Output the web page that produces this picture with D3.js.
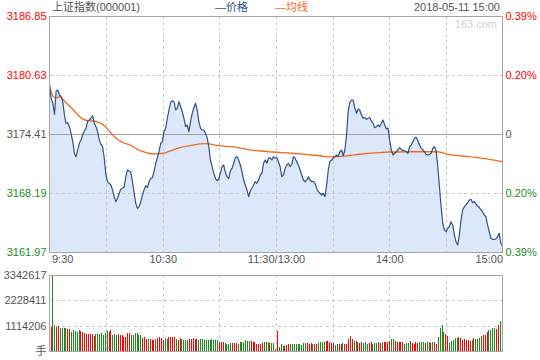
<!DOCTYPE html>
<html><head><meta charset="utf-8">
<script src="https://cdn.jsdelivr.net/npm/d3@7"></script>
<style>
body{margin:0;background:#fff}
svg{display:block}
text{font-family:"Liberation Sans","Noto Sans CJK SC",sans-serif;font-size:11px}
</style>
</head><body><svg id="c" width="540" height="360"></svg>
<script>
const titleText = "上证指数(000001)";
const legendLabels = ["—价格", "—均线"];
const dateText = "2018-05-11 15:00";
const watermark = "163.com";
const prevClose = 3174.41;
const priceTicks = [3161.97, 3168.19, 3174.41, 3180.63, 3186.85];
const pctLabels = ["0.39%", "0.20%", "0", "0.20%", "0.39%"];
const timeMinutes = [0, 60, 120, 180, 240];
const timeLabels = ["9:30", "10:30", "11:30/13:00", "14:00", "15:00"];
const gridMinutes = [30, 60, 90, 120, 150, 180, 210];
const volumeTicks = [0, 1114206, 2228411, 3342617];
const volumeTickLabels = ["手", "1114206", "2228411", "3342617"];

const prices = [
3179.58,3178.17,3177.68,3176.48,3178.94,3179.05,3178.52,3178.34,3177.82,3176.41,
3175.54,3175.60,3175.18,3174.48,3173.60,3172.38,3172.02,3172.72,3173.43,3173.78,
3174.31,3174.73,3175.01,3175.78,3175.89,3176.07,3176.34,3175.54,3175.18,3174.65,
3173.78,3173.32,3173.07,3171.85,3170.09,3169.38,3169.21,3169.03,3168.51,3167.80,
3167.27,3167.63,3168.16,3168.58,3168.69,3168.85,3169.91,3170.62,3170.51,3170.37,
3169.38,3168.16,3167.10,3166.58,3166.75,3167.27,3167.98,3168.51,3168.96,3168.75,
3169.38,3169.74,3169.80,3170.44,3171.32,3171.91,3172.54,3173.43,3173.60,3174.65,
3175.01,3176.07,3176.94,3177.75,3177.92,3177.82,3176.94,3177.12,3177.82,3177.29,
3176.76,3176.07,3175.18,3175.36,3174.65,3175.71,3176.59,3177.18,3177.65,3176.94,
3175.71,3175.01,3174.83,3174.83,3174.48,3174.02,3173.07,3171.67,3170.96,3170.27,
3169.74,3169.49,3169.67,3170.27,3170.96,3171.14,3170.37,3169.91,3169.74,3170.51,
3170.79,3171.32,3171.91,3172.02,3171.67,3171.14,3170.44,3169.56,3169.03,3168.51,
3167.80,3168.40,3168.69,3169.03,3169.38,3169.21,3169.56,3170.09,3170.27,3171.32,
3171.67,3171.32,3171.85,3171.91,3171.67,3172.02,3171.85,3171.91,3171.46,3170.96,
3169.91,3170.09,3170.79,3171.14,3171.32,3170.96,3171.22,3172.02,3171.85,3171.49,
3171.14,3170.62,3170.09,3169.56,3169.38,3169.56,3169.91,3169.56,3169.38,3169.38,
3169.21,3168.69,3168.33,3168.16,3167.98,3168.16,3167.80,3169.03,3170.62,3171.49,
3171.67,3171.85,3172.02,3172.20,3172.02,3172.54,3172.72,3172.12,3172.72,3174.31,
3176.76,3177.75,3177.99,3177.99,3177.12,3176.59,3177.05,3176.94,3176.41,3176.07,
3176.13,3175.96,3176.07,3176.13,3175.78,3175.54,3175.07,3175.18,3175.36,3175.18,
3175.54,3175.89,3175.36,3174.94,3175.04,3173.78,3172.72,3172.20,3172.38,3172.54,
3172.72,3172.97,3172.80,3172.65,3172.65,3172.54,3172.38,3173.07,3173.25,3173.60,
3173.96,3174.06,3173.70,3173.25,3172.90,3172.72,3172.54,3172.27,3172.20,3172.27,
3172.38,3172.90,3173.07,3172.65,3170.96,3168.85,3166.75,3165.00,3164.29,3164.11,
3164.47,3164.64,3165.16,3164.82,3163.76,3163.06,3162.71,3163.76,3165.34,3166.40,
3166.75,3166.93,3167.17,3167.45,3167.53,3167.17,3167.27,3167.03,3166.82,3166.68,
3166.40,3166.22,3165.87,3165.69,3164.82,3164.11,3163.42,3163.31,3163.31,3163.34,
3163.58,3163.94,3162.89,3162.60
];

const avgMinutes = [0,2.1,3.9,5.7,7.4,10.1,12.7,15.4,18.0,20.6,23.3,25.9,28.6,31.2,33.9,36.5,39.2,41.8,44.5,47.1,49.8,52.4,55.1,57.7,60.3,63.9,69.2,74.5,79.8,83.3,88.6,93.9,99.2,104.5,111.5,118.6,128.3,137.1,144.2,147.7,153.0,158.3,165.4,172.4,179.5,184.8,191.8,198.9,205.1,211.2,218.3,225.4,232.4,240];
const avgPrices = [3179.50,3178.34,3178.24,3178.34,3177.99,3177.47,3176.94,3176.34,3175.96,3175.81,3175.78,3175.64,3175.36,3174.83,3174.23,3173.78,3173.49,3173.32,3173.07,3172.72,3172.54,3172.38,3172.30,3172.33,3172.38,3172.62,3172.97,3173.18,3173.36,3173.39,3173.22,3173.11,3173.01,3172.80,3172.62,3172.51,3172.38,3172.23,3172.09,3171.99,3172.02,3172.12,3172.30,3172.41,3172.51,3172.51,3172.54,3172.54,3172.54,3172.27,3172.09,3171.95,3171.77,3171.49];

const volumes = [
1040900,3342617,1143500,1070200,1114200,1026200,996900,996900,996900,952900,
952900,850300,923600,894300,821000,909000,865000,821000,791700,762400,
747700,747700,747700,659700,747700,762400,747700,777000,703700,777000,
879600,821000,909000,703700,762400,718400,733000,703700,689000,615800,
615800,791700,791700,689000,689000,791700,791700,689000,689000,586400,
615800,527800,527800,527800,483800,498500,527800,571800,601100,571800,
498500,557100,527800,615800,615800,615800,615800,527800,469100,557100,
527800,483800,483800,483800,513100,542400,571800,513100,542400,483800,
513100,513100,483800,483800,469100,483800,513100,483800,469100,469100,
395800,395800,395800,351900,322500,322500,366500,366500,351900,351900,
307900,381200,410500,381200,469100,425200,425200,425200,395800,395800,
307900,307900,307900,351900,381200,381200,381200,351900,
351900,351900,73300,879600,161300,307900,219900,219900,263900,293200,
307900,307900,307900,307900,307900,307900,263900,351900,351900,351900,
322500,351900,322500,307900,307900,366500,410500,395800,410500,439800,
439800,410500,351900,366500,278600,307900,307900,307900,351900,307900,
307900,527800,659700,527800,439800,439800,395800,366500,395800,337200,
395800,307900,351900,395800,307900,351900,351900,395800,366500,395800,
395800,395800,395800,439800,527800,527800,439800,395800,395800,395800,
395800,307900,351900,351900,439800,351900,307900,395800,351900,395800,
395800,395800,351900,395800,395800,351900,395800,395800,307900,615800,
996900,1143500,835700,747700,659700,351900,439800,483800,571800,571800,
615800,571800,498500,527800,483800,483800,439800,483800,571800,527800,
527800,571800,659700,703700,703700,835700,923600,923600,1011600,1026200,
967600,1143500,1319500,131900
];
const volumeDirs = (
"RGGRRGGGGR"+"RGGGGGRRRR"+"RRRRGGGGGG"+"GRRGGGRRRR"+"RRRGGGGGGR"+"RRGRRRGRRR"+
"RGGRRRRGRR"+"GGGGRRRRRG"+"GGGGGGGGGG"+"RRRGGGGRRR"+"GGGGGGGRRR"+"RRRRGGGR"+
"GGRRGGGRRR"+"GGGGGGGGGR"+"RRGRRGGGGR"+"RRRRGGRRGR"+"RRRRGGRRRG"+"GGRRGGGRRG"+
"RRRRGGRRRR"+"RGGGRRRRRG"+"GGRGGRGRRG"+"GGGRRGGGGG"+"RRRRRRRGRG"+"GGGRRRGGGG"+"RRGR"
).split("");

const C = {
  frame: "#a4a4a4", grid: "#c8c8c8", mid: "#a4a4a4",
  red: "#ff0000", green: "#1d8b1d", gray: "#555555",
  line: "#2f5185", fill: "#dce8fa", avg: "#f36a1c", water: "#cfcfcf"
};

const svg = d3.select("#c");
const L = 49.5, R = 502.5, T = 16, B = 252;
const VT = 275, VB = 351;

const x = d3.scaleLinear().domain([0, 240]).range([L, R]);
const y = d3.scaleLinear().domain([priceTicks[0], priceTicks[4]]).range([B, T]);
const yv = d3.scaleLinear().domain([0, volumeTicks[3]]).range([VB, VT]);
const idx = d3.scaleLinear().domain([0, prices.length - 1]).range([0, 240]);
const vIdx = d3.scaleLinear().domain([0, volumes.length - 1]).range([50.5, 501.5]);

// area fill
const area = d3.area().x((d, i) => x(idx(i))).y0(B).y1(d => y(d));
svg.append("path").datum(prices).attr("d", area).attr("fill", C.fill);

// price grid
const g = svg.append("g").attr("shape-rendering", "crispEdges");
g.selectAll(".vg").data(gridMinutes).join("line")
  .attr("x1", d => Math.round(x(d)) + 0.5).attr("x2", d => Math.round(x(d)) + 0.5)
  .attr("y1", T).attr("y2", B).attr("stroke", C.grid).attr("stroke-dasharray", "3,3");
g.selectAll(".hg").data([priceTicks[1], priceTicks[3]]).join("line")
  .attr("x1", L).attr("x2", R)
  .attr("y1", d => Math.round(y(d)) + 0.5).attr("y2", d => Math.round(y(d)) + 0.5)
  .attr("stroke", C.grid).attr("stroke-dasharray", "3,3");
g.append("line").attr("x1", L).attr("x2", R)
  .attr("y1", Math.round(y(prevClose)) + 0.5).attr("y2", Math.round(y(prevClose)) + 0.5)
  .attr("stroke", C.mid);

// average line
svg.append("path")
  .datum(avgMinutes.map((m, i) => [m, avgPrices[i]]))
  .attr("d", d3.line().x(d => x(d[0])).y(d => y(d[1])).curve(d3.curveMonotoneX))
  .attr("fill", "none").attr("stroke", C.avg).attr("stroke-width", 1.3);

// price line
svg.append("path").datum(prices)
  .attr("d", d3.line().x((d, i) => x(idx(i))).y(d => y(d)))
  .attr("fill", "none").attr("stroke", C.line).attr("stroke-width", 1.2)
  .attr("stroke-linejoin", "round");

// frame
svg.append("rect").attr("x", L).attr("y", T + 0.5).attr("width", R - L).attr("height", B - T)
  .attr("fill", "none").attr("stroke", C.frame).attr("shape-rendering", "crispEdges");

// axes
function styleAxis(sel) { sel.select(".domain").remove(); sel.selectAll("text").style("font-size", "11px").style("font-family", '"Liberation Sans","Noto Sans CJK SC",sans-serif'); }
const tickColor = i => i < 2 ? C.green : (i === 2 ? C.gray : C.red);

const ayl = svg.append("g").attr("transform", `translate(${L},0)`)
  .call(d3.axisLeft(y).tickValues(priceTicks).tickFormat(d3.format(".2f")).tickSize(0).tickPadding(3));
styleAxis(ayl);
ayl.selectAll("text").attr("fill", (d, i) => tickColor(i));

const ayr = svg.append("g").attr("transform", `translate(${R},0)`)
  .call(d3.axisRight(y).tickValues(priceTicks).tickFormat((d, i) => pctLabels[i]).tickSize(0).tickPadding(3));
styleAxis(ayr);
ayr.selectAll("text").attr("fill", (d, i) => tickColor(i));

const axb = svg.append("g").attr("transform", `translate(0,${B})`)
  .call(d3.axisBottom(x).tickValues(timeMinutes).tickFormat((d, i) => timeLabels[i]).tickSize(0).tickPadding(3));
styleAxis(axb);
axb.selectAll("text").attr("fill", C.gray)
  .attr("text-anchor", (d, i) => i === 0 ? "start" : (i === timeMinutes.length - 1 ? "end" : "middle"))
  .attr("dx", (d, i) => i === 0 ? 2 : 0);

// volume grid
const gv = svg.append("g").attr("shape-rendering", "crispEdges");
gv.selectAll(".vv").data(gridMinutes).join("line")
  .attr("x1", d => Math.round(x(d)) + 0.5).attr("x2", d => Math.round(x(d)) + 0.5)
  .attr("y1", VT).attr("y2", VB).attr("stroke", C.grid).attr("stroke-dasharray", "3,3");
gv.selectAll(".vh").data([volumeTicks[1], volumeTicks[2]]).join("line")
  .attr("x1", L).attr("x2", R)
  .attr("y1", d => Math.round(yv(d)) + 0.5).attr("y2", d => Math.round(yv(d)) + 0.5)
  .attr("stroke", C.grid).attr("stroke-dasharray", "3,3");

// volume bars
svg.append("g").attr("shape-rendering", "crispEdges")
  .selectAll("rect").data(volumes).join("rect")
  .attr("x", (d, i) => Math.round(vIdx(i)))
  .attr("width", 1)
  .attr("y", d => yv(d))
  .attr("height", d => VB - yv(d))
  .attr("fill", (d, i) => volumeDirs[i] === "R" ? C.red : C.green);

svg.append("rect").attr("x", L).attr("y", VT + 0.5).attr("width", R - L).attr("height", VB - VT)
  .attr("fill", "none").attr("stroke", C.frame).attr("shape-rendering", "crispEdges");

const av = svg.append("g").attr("transform", `translate(${L},0)`)
  .call(d3.axisLeft(yv).tickValues(volumeTicks).tickFormat((d, i) => volumeTickLabels[i]).tickSize(0).tickPadding(3));
styleAxis(av);
av.selectAll("text").attr("fill", C.gray);

// header
svg.append("text").attr("x", 52).attr("y", 7).attr("dy", "0.35em").attr("fill", C.gray).text(titleText);
svg.append("text").attr("x", 215).attr("y", 7).attr("dy", "0.35em").attr("fill", C.line).text(legendLabels[0]);
svg.append("text").attr("x", 275).attr("y", 7).attr("dy", "0.35em").attr("fill", C.avg).text(legendLabels[1]);
svg.append("text").attr("x", 500).attr("y", 7).attr("dy", "0.35em").attr("text-anchor", "end").attr("fill", C.gray).text(dateText);
svg.append("text").attr("x", 497).attr("y", 24).attr("dy", "0.35em").attr("text-anchor", "end").attr("fill", C.water).text(watermark);
</script>
</body></html>
